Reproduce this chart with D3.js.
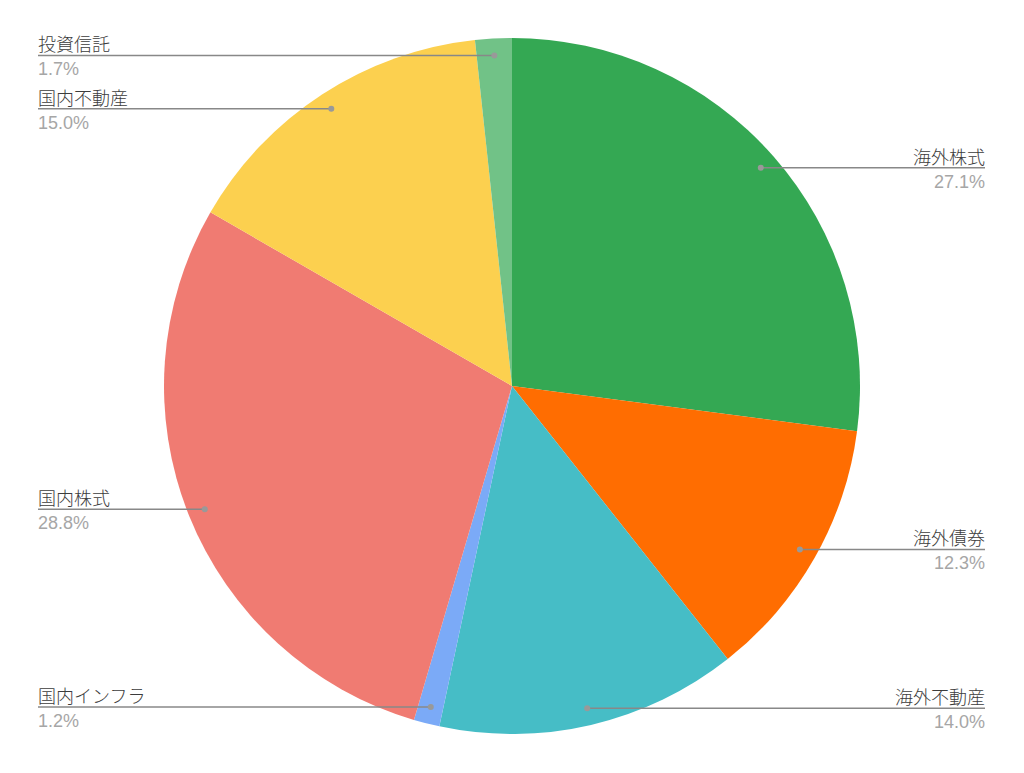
<!DOCTYPE html>
<html><head><meta charset="utf-8">
<script src="https://cdn.jsdelivr.net/npm/d3@7"></script>
<style>body{margin:0;background:#fff}svg{display:block}</style>
</head><body>
<svg id="c" width="1024" height="773"></svg>
<script>
const categories = ["海外株式","海外債券","海外不動産","国内インフラ","国内株式","国内不動産","投資信託"];
const values = [27.1,12.3,14.0,1.2,28.8,15.0,1.7];
const percentLabels = ["27.1%","12.3%","14.0%","1.2%","28.8%","15.0%","1.7%"];
const colors = ["#34a853","#ff6d01","#46bdc6","#7baaf7","#f07b72","#fcd04f","#71c287"];

const svg = d3.select("#c");
const cx = 512, cy = 386, R = 348, rDot = 331;
const g = svg.append("g").attr("transform",`translate(${cx},${cy})`);
const pie = d3.pie().sort(null).value(d=>d)(values);
const arc = d3.arc().innerRadius(0).outerRadius(R);
g.selectAll("path").data(pie).join("path")
  .attr("d",arc).attr("fill",(d,i)=>colors[i]);

const fontCJK = "'Noto Sans CJK JP','Noto Sans',sans-serif";
const fontNum = "'Liberation Sans',Arial,sans-serif";
pie.forEach((d,i)=>{
  const a = (d.startAngle+d.endAngle)/2;
  const x = cx + rDot*Math.sin(a), y = cy - rDot*Math.cos(a);
  const right = Math.sin(a) > 0;
  const lx = right ? 985 : 38;
  svg.append("line").attr("x1",x).attr("y1",y).attr("x2",lx).attr("y2",y)
    .attr("stroke","#888").attr("stroke-width",1.5);
  svg.append("circle").attr("cx",x).attr("cy",y).attr("r",3).attr("fill","#999");
  const anchor = right ? "end" : "start";
  svg.append("text").attr("x",lx).attr("y",y-4).attr("text-anchor",anchor)
    .attr("font-family",fontCJK).attr("font-weight",300).attr("font-size",18).attr("fill","#3c3c3c").text(categories[i]);
  svg.append("text").attr("x",lx).attr("y",y+20).attr("text-anchor",anchor)
    .attr("font-family",fontNum).attr("font-size",18).attr("fill","#a6a6a6").text(percentLabels[i]);
});
</script>
</body></html>
